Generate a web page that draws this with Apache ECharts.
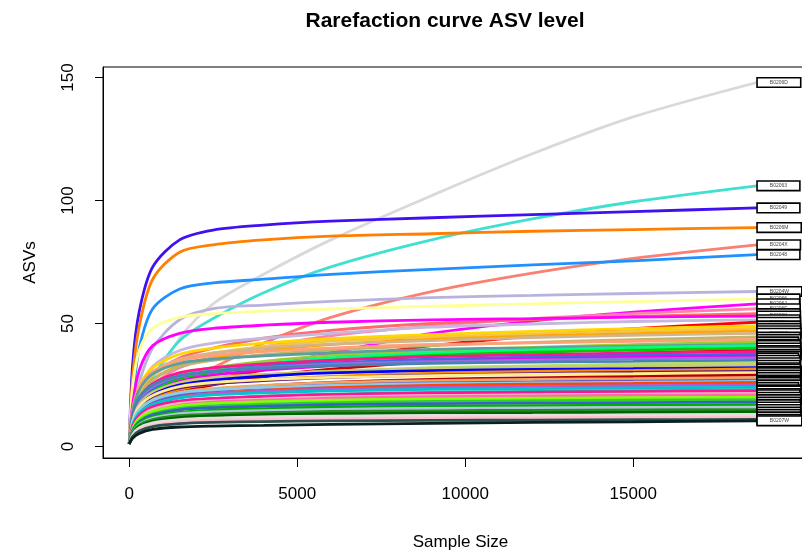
<!DOCTYPE html>
<html lang="en">
<head>
    <meta charset="UTF-8">
    <title>Rarefaction curve ASV level</title>
    <style>
        html, body { margin: 0; padding: 0; background: #fff; }
        #main { width: 802px; height: 556px; }
    </style>
</head>
<body>
<div id="main"></div>
<script src="https://cdn.jsdelivr.net/npm/echarts@6/dist/echarts.min.js"></script>
<script>
    var sampleSizes = [1, 100, 300, 700, 1500, 2500, 4000, 6000, 9000, 12000, 15000, 18680];
    // sample names (end labels)
    var sampleNames = ['B0206D', 'B02063', 'B02049', 'B0206M', 'B0204X', 'B02048', 'B0204W', 'B02066',
        'B0206J', 'B0206F', 'B0206Z', 'B0206K', 'B0206L', 'B0206A', 'B0206B', 'B0206C', 'B0206E', 'B0206G',
        'B0207F', 'B0206H', 'B0206I', 'B0207A', 'B0207B', 'B0207C', 'B0207D', 'B0207E', 'B0207G', 'B0207H',
        'B0207I', 'B0207J', 'B0207K', 'B0207L', 'B0204A', 'B0204B', 'B0207M', 'B0204C', 'B0204D', 'B0204E',
        'B0204F', 'B0204G', 'B0207P', 'B0204H', 'B0204I', 'B0204J', 'B0207Q', 'B0204K', 'B0204L', 'B0207R',
        'B0204M', 'B0207S', 'B0207T', 'B0204N', 'B0207U', 'B0207N', 'B0204P', 'B0204Q', 'B0207V', 'B0207W'];
    // ASVs observed at each sample size, one row per sample
    var asvCurves = [
        [1, 6, 14, 25, 44, 58, 70, 84, 102, 119, 134, 148],
        [1, 7.5, 16, 28, 43, 52, 62.5, 73, 84, 92.5, 99.5, 106],
        [1, 33, 55, 73, 84, 88, 90, 91.6, 93, 94.3, 95.5, 97],
        [1, 28, 49, 68, 79, 82, 84, 85.5, 86.5, 87.5, 88.2, 89],
        [1, 4.5, 9, 15, 25, 32, 42, 52.5, 63, 70.5, 76.5, 82],
        [1, 19, 40, 56, 64, 66.5, 68, 70, 72, 73.8, 75.5, 78],
        [1, 12, 26, 40, 51.5, 56, 57.5, 59, 60.5, 61.4, 62.2, 63],
        [1, 24, 39, 48, 52.5, 54, 55, 55.9, 57, 58, 58.9, 60],
        [1, 6, 11, 16.5, 23, 27, 32, 38, 46, 51, 54.6, 58],
        [1, 9.5, 17, 25, 32, 36, 40.5, 45, 49, 52, 54, 56],
        [1, 12, 21, 29, 36, 40, 44, 47.2, 50, 51.6, 52.9, 54],
        [1, 17, 31, 41, 46, 48, 49.3, 50.5, 51.5, 52, 52.6, 53],
        [1, 12, 23, 32.5, 39, 42, 44, 46, 48.5, 49.8, 50.8, 51.5],
        [1, 6, 12, 17.5, 23.5, 27, 31, 35.4, 41, 44.9, 47.9, 50.5],
        [1, 14, 24.5, 32, 37.5, 40, 42, 43.8, 45.5, 46.8, 47.9, 49],
        [1, 12.5, 22, 29, 35, 38, 40.6, 42.8, 44.5, 45.8, 46.9, 48],
        [1, 11, 19, 27, 33, 36, 39, 41.4, 43.5, 44.8, 45.9, 47],
        [1, 13, 23, 30, 35.5, 38, 40, 41.6, 43, 44.3, 45.2, 46],
        [1, 12, 20, 27, 32.5, 35, 37.3, 39.3, 41, 42.3, 43.4, 44.5],
        [1, 15, 24, 30.5, 35, 37, 38.6, 40, 41.5, 42.1, 42.7, 43.5],
        [1, 11, 18.5, 24.5, 29.5, 32, 34.6, 37, 39, 40.3, 41.4, 42.5],
        [1, 14, 23, 29.5, 33.8, 35.5, 36.8, 38.1, 39.5, 40.1, 40.8, 41.5],
        [1, 10, 17.5, 23.5, 28.5, 31, 33.6, 36, 38, 39.3, 40.2, 41],
        [1, 9.5, 16.5, 22.5, 27.5, 30, 32.6, 35, 37, 38.3, 39.2, 40],
        [1, 6, 11, 16.5, 22, 25, 28.3, 31.4, 34.5, 36.4, 37.9, 39],
        [1, 12, 19.5, 25.5, 30, 32, 33.6, 35, 36.5, 37.3, 38, 38.5],
        [1, 10, 17.5, 23.5, 28.3, 30.5, 32.5, 34, 35.5, 36.3, 37, 37.5],
        [1, 9.5, 16, 21.5, 26.5, 29, 31, 32.8, 34.5, 35.5, 36.2, 36.7],
        [1, 12, 19, 24.3, 28.5, 30.5, 32.1, 33.5, 34.5, 35.1, 35.6, 36],
        [1, 12.5, 20, 25, 28.8, 30.5, 31.8, 32.9, 33.8, 34.3, 34.6, 35],
        [1, 8.5, 15, 20.3, 24.8, 27, 29, 30.6, 32, 32.8, 33.5, 34],
        [1, 10, 17, 22, 26, 28, 29.3, 30.5, 31.5, 32, 32.5, 33],
        [1, 9.5, 16, 21, 25, 27, 28.6, 29.9, 30.8, 31.3, 31.6, 32],
        [1, 8, 14, 19, 23.3, 25.5, 27.1, 28.5, 29.8, 30.5, 30.9, 31.5],
        [1, 9.5, 15.5, 20.3, 23.8, 25.5, 26.8, 28, 29, 29.6, 30.1, 30.5],
        [1, 10, 16.3, 20.7, 24.3, 26, 27.2, 28.1, 28.8, 29.3, 29.6, 30],
        [1, 7, 12.3, 17, 21, 23, 24.6, 26, 27.3, 27.9, 28.4, 29],
        [1, 8.5, 14.3, 18.7, 22, 23.5, 24.8, 25.9, 26.8, 27.3, 27.6, 28],
        [1, 8, 13.3, 17.7, 21, 22.5, 23.8, 24.9, 25.8, 26.2, 26.6, 27],
        [1, 9.5, 15, 18.9, 21.8, 23, 24, 24.8, 25.5, 25.8, 26.1, 26.5],
        [1, 7, 12.3, 16.7, 20, 21.5, 22.8, 23.9, 24.8, 25.3, 25.6, 26],
        [1, 8, 13, 16.9, 20, 21.5, 22.5, 23.3, 24, 24.4, 24.7, 25],
        [1, 8.5, 13.6, 17.1, 19.8, 21, 21.8, 22.6, 23.2, 23.5, 23.8, 24],
        [1, 7, 11.6, 15.4, 18.3, 19.5, 20.5, 21.3, 22, 22.4, 22.7, 23],
        [1, 8, 12.6, 16.1, 18.5, 19.5, 20.3, 21.1, 21.7, 22, 22.3, 22.5],
        [1, 7, 11.6, 15.1, 17.5, 18.5, 19.3, 20.1, 20.7, 21, 21.3, 21.5],
        [1, 6.3, 10.6, 14.1, 16.8, 18, 18.8, 19.6, 20.2, 20.5, 20.8, 21],
        [1, 7, 11.3, 14.3, 16.5, 17.5, 18.2, 18.8, 19.3, 19.6, 19.8, 20],
        [1, 6.3, 10.3, 13.3, 15.5, 16.5, 17.2, 17.8, 18.3, 18.6, 18.8, 19],
        [1, 6.3, 10, 12.8, 14.9, 15.8, 16.4, 17, 17.4, 17.6, 17.8, 18],
        [1, 6, 9.5, 12, 13.9, 14.8, 15.4, 16, 16.4, 16.6, 16.8, 17],
        [1, 5.5, 9, 11.5, 13.3, 14, 14.6, 15.1, 15.5, 15.7, 15.85, 16],
        [1, 5.5, 8.6, 10.9, 12.5, 13.2, 13.7, 14.2, 14.5, 14.7, 14.85, 15],
        [1, 5, 8, 10.2, 11.7, 12.4, 12.9, 13.3, 13.6, 13.75, 13.85, 14],
        [1, 4.8, 7.6, 9.6, 10.9, 11.5, 12, 12.3, 12.6, 12.7, 12.85, 13],
        [1, 4, 6.6, 8.6, 10, 10.6, 11, 11.3, 11.6, 11.7, 11.85, 12],
        [1, 4, 6.3, 8.1, 9.3, 9.8, 10.1, 10.4, 10.6, 10.7, 10.85, 11],
        [1, 3.3, 5.3, 6.9, 7.9, 8.3, 8.6, 9, 9.4, 9.8, 10, 10.4]
    ];
    var xTicks = [0, 5000, 10000, 15000];
    var yTicks = [0, 50, 100, 150];

    // line colours, one per sample
    var curveColors = ['#D9D9D9', '#40E0D0', '#4010F0', '#FF7F00', '#FA8072', '#1E90FF', '#B8B2DC', '#FFFF99',
        '#FF00FF', '#FF82AB', '#FF6A6A', '#FF00FF', '#C5B8DE', '#FF0000', '#FFD700', '#F5C542', '#FFA500', '#D2B48C',
        '#BDB76B', '#FFA07A', '#9ACD32', '#5F9EA0', '#00FF7F', '#00CD00', '#CD0000', '#FF1493', '#4169E1', '#EE00EE',
        '#9370DB', '#4682B4', '#B3DE69', '#CDC673', '#0000FF', '#FF8C00', '#551A8B', '#FFEC8B', '#B40000', '#F4A460',
        '#6A5ACD', '#87CEEB', '#FF4500', '#BA55D3', '#00C5CD', '#20B2AA', '#FF1493', '#FFB6C1', '#FF69B4', '#7FFF00',
        '#32CD32', '#3A5FCD', '#00B000', '#B0C4DE', '#228B22', '#006400', '#E0E0E0', '#FFC0CB', '#2F4F4F', '#0A1F1F'];

    var font = "'Liberation Sans', Arial, sans-serif";
    var chart = echarts.init(document.getElementById('main'));

    var series = [];
    for (var i = 0; i < asvCurves.length; i++) {
        var pts = [];
        for (var j = 0; j < sampleSizes.length; j++) {
            pts.push([sampleSizes[j], asvCurves[i][j]]);
        }
        series.push({
            name: sampleNames[i],
            type: 'line',
            data: pts,
            showSymbol: false,
            smooth: 0.3,
            lineStyle: { color: curveColors[i], width: 2.8 },
            endLabel: {
                show: true,
                formatter: function (p) { return p.seriesName; },
                fontSize: 5,
                lineHeight: 6,
                fontFamily: font,
                color: '#444',
                backgroundColor: '#fff',
                borderColor: '#000',
                borderWidth: 1.6,
                padding: [1, 12],
                distance: 1
            }
        });
    }

    var option = {
        animation: false,
        backgroundColor: '#fff',
        title: {
            text: 'Rarefaction curve ASV level',
            left: 445,
            top: 11,
            textAlign: 'center',
            padding: 0,
            textStyle: { fontFamily: font, fontSize: 21, fontWeight: 'bold', color: '#000' }
        },
        grid: {
            left: 103, top: 67, bottom: 98, right: -16,
            outerBoundsMode: 'none',
            show: true, borderColor: '#000', borderWidth: 1
        },
        xAxis: {
            type: 'value',
            min: -780,
            max: 20500,
            name: 'Sample Size',
            nameLocation: 'middle',
            nameGap: 76,
            nameTextStyle: { fontFamily: font, fontSize: 17, color: '#000' },
            splitLine: { show: false },
            axisLine: { show: true, onZero: false, lineStyle: { color: '#000', width: 1 } },
            axisTick: { show: true, length: 9, customValues: xTicks, lineStyle: { color: '#000' } },
            axisLabel: {
                customValues: xTicks, margin: 28, fontFamily: font, fontSize: 17, color: '#000',
                formatter: function (v) { return String(v); }
            }
        },
        yAxis: {
            type: 'value',
            min: -4.7,
            max: 154.3,
            name: 'ASVs',
            nameLocation: 'middle',
            nameGap: 64,
            nameTextStyle: { fontFamily: font, fontSize: 17, color: '#000' },
            splitLine: { show: false },
            axisLine: { show: true, onZero: false, lineStyle: { color: '#000', width: 1 } },
            axisTick: { show: true, length: 8, customValues: yTicks, lineStyle: { color: '#000' } },
            axisLabel: { customValues: yTicks, rotate: 90, margin: 26, fontFamily: font, fontSize: 17, color: '#000' }
        },
        series: series
    };
    chart.setOption(option);
</script>
</body>
</html>
